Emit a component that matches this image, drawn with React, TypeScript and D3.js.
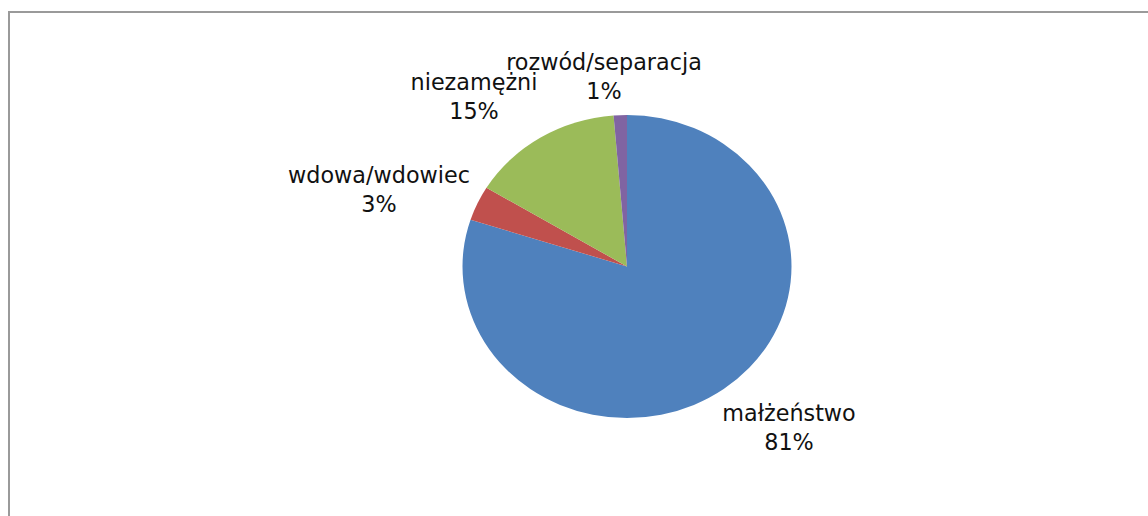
import React from 'react';
import * as d3 from 'd3';

// marital status shares, clockwise from 12 o'clock
const categories = ['małżeństwo', 'wdowa/wdowiec', 'niezamężni', 'rozwód/separacja'];
const values = [80.0, 3.7, 15.0, 1.3];
const pctLabels = ['81%', '3%', '15%', '1%'];
const colors = ['#4F81BD', '#C0504D', '#9BBB59', '#8064A2'];

// label anchors (center x, first baseline)
const labelPos = [
  [789, 421],
  [379, 183],
  [474, 90],
  [604, 70],
];

const W = 1148;
const H = 516;
const cx = 627;
const cy = 266.5;
const rx = 164.5;
const ry = 151.5;

const App = () => {
  const pie = d3.pie<number>().sort(null).value(d => d)(values);
  const arc = d3.arc<d3.PieArcDatum<number>>().innerRadius(0).outerRadius(rx);

  const fontSize = 23;
  const sx = 0.97;

  return (
    <svg
      width={W}
      height={H}
      style={{ position: 'absolute', left: 0, top: 0, display: 'block', background: '#fff' }}
    >
      {/* chart frame, cut by the page edge */}
      <rect x={9} y={12} width={W + 20} height={H + 20} fill="#fff" stroke="#9a9a9a" strokeWidth={2} />

      <g transform={`translate(${cx},${cy}) scale(1,${ry / rx})`}>
        {pie.map((d, i) => (
          <path key={categories[i]} d={arc(d) || ''} fill={colors[i]} />
        ))}
      </g>

      <g fontFamily="'DejaVu Sans', sans-serif" fontSize={fontSize} fill="#111">
        {categories.map((c, i) => (
          <g key={c} transform={`translate(${labelPos[i][0]},${labelPos[i][1]}) scale(${sx},1)`}>
            <text textAnchor="middle" x={0} y={0}>{c}</text>
            <text textAnchor="middle" x={0} y={29}>{pctLabels[i]}</text>
          </g>
        ))}
      </g>
    </svg>
  );
};

export default App;
